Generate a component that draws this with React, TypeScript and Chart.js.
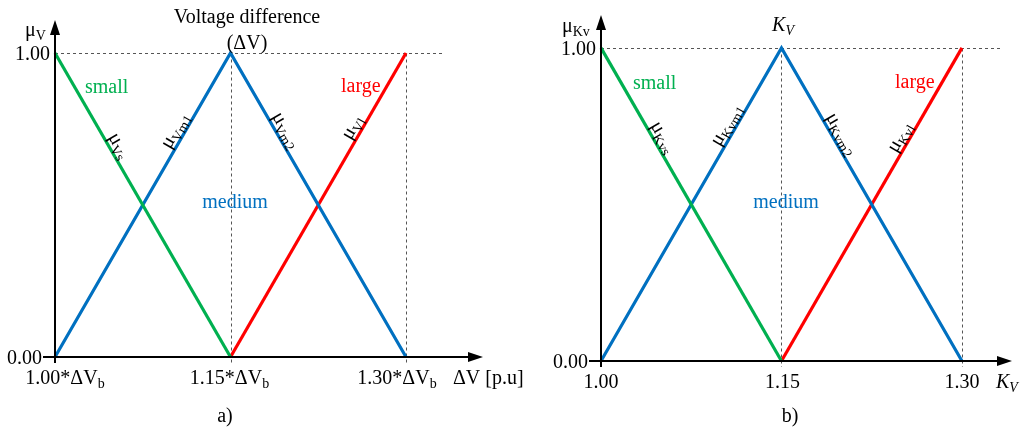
import React, { useEffect, useRef } from "react";
import { Chart, registerables } from "chart.js";

Chart.register(...registerables);

// ---------- data ----------
const xTicks = [1.0, 1.15, 1.3];
const yTicks = [0, 1];
const smallX = [1.0, 1.15];
const smallY = [1, 0];
const mediumX = [1.0, 1.15, 1.3];
const mediumY = [0, 1, 0];
const largeX = [1.15, 1.3];
const largeY = [0, 1];
const refLineEnd = 1.333;
const categoryNames = ["small", "medium", "large"];
const yTickLabels = ["0.00", "1.00"];
const leftXTickLabels = ["1.00*ΔV", "1.15*ΔV", "1.30*ΔV"];
const rightXTickLabels = ["1.00", "1.15", "1.30"];

const GREEN = "#00b050";
const BLUE = "#0070c0";
const RED = "#ff0000";
const FONT = '"Liberation Serif", "Times New Roman", serif';

type Part = { t: string; sub?: boolean; it?: boolean };

function setFont(ctx: CanvasRenderingContext2D, size: number, it?: boolean) {
  ctx.font = `${it ? "italic " : ""}${size}px ${FONT}`;
}
function pSize(p: Part, size: number) {
  return p.sub ? Math.round(size * 0.7) : size;
}
function richWidth(ctx: CanvasRenderingContext2D, parts: Part[], size: number) {
  let w = 0;
  for (const p of parts) {
    setFont(ctx, pSize(p, size), p.it);
    w += ctx.measureText(p.t).width;
  }
  return w;
}
function drawRich(
  ctx: CanvasRenderingContext2D,
  parts: Part[],
  x: number,
  y: number,
  size: number,
  align: "left" | "center" | "right",
  color: string
) {
  const w = richWidth(ctx, parts, size);
  let cx = align === "left" ? x : align === "center" ? x - w / 2 : x - w;
  ctx.fillStyle = color;
  ctx.textAlign = "left";
  ctx.textBaseline = "alphabetic";
  for (const p of parts) {
    setFont(ctx, pSize(p, size), p.it);
    ctx.fillText(p.t, cx, p.sub ? y + size * 0.22 : y);
    cx += ctx.measureText(p.t).width;
  }
}

type Panel = {
  pad: { left: number; right: number; top: number; bottom: number };
  xMax: number;
  yMax: number;
  xTick: (i: number) => Part[];
  xTickDx: number[];
  yLabel: Part[];
  yLabelX: number;
  yLabelY: number;
  titles: { parts: Part[]; x: number; y: number }[];
  catPos: { x: number; y: number; align: "left" | "center" }[];
  segLabels: Part[][];
  segT: number[];
  xTitle: Part[];
  xTitleX: number;
  letter: string;
  letterX: number;
};

const panels: Panel[] = [
  {
    pad: { left: 55, right: 540, top: 20, bottom: 73 },
    xMax: 1.3658,
    yMax: 1.1086,
    xTick: (i) => [{ t: leftXTickLabels[i] }, { t: "b", sub: true }],
    xTickDx: [10, -1, -9],
    yLabel: [{ t: "μ" }, { t: "V", sub: true }],
    yLabelX: 25,
    yLabelY: 36,
    titles: [
      { parts: [{ t: "Voltage difference" }], x: 247, y: 23 },
      { parts: [{ t: "(ΔV)" }], x: 247, y: 49 },
    ],
    catPos: [
      { x: 85, y: 93, align: "left" },
      { x: 235, y: 208, align: "center" },
      { x: 341, y: 92, align: "left" },
    ],
    segLabels: [
      [{ t: "μ" }, { t: "Vs", sub: true }],
      [{ t: "μ" }, { t: "Vm1", sub: true }],
      [{ t: "μ" }, { t: "Vm2", sub: true }],
      [{ t: "μ" }, { t: "Vl", sub: true }],
    ],
    segT: [0.32, 0.73, 0.27, 0.74],
    xTitle: [{ t: "ΔV [p.u]" }],
    xTitleX: 453,
    letter: "a)",
    letterX: 225,
  },
  {
    pad: { left: 601, right: 11, top: 15, bottom: 69 },
    xMax: 1.3416,
    yMax: 1.105,
    xTick: (i) => [{ t: rightXTickLabels[i] }],
    xTickDx: [0, 1, 0],
    yLabel: [{ t: "μ" }, { t: "Kv", sub: true }],
    yLabelX: 562,
    yLabelY: 32,
    titles: [{ parts: [{ t: "K", it: true }, { t: "V", it: true, sub: true }], x: 783, y: 31 }],
    catPos: [
      { x: 633, y: 89, align: "left" },
      { x: 786, y: 208, align: "center" },
      { x: 895, y: 88, align: "left" },
    ],
    segLabels: [
      [{ t: "μ" }, { t: "Kvs", sub: true }],
      [{ t: "μ" }, { t: "Kvm1", sub: true }],
      [{ t: "μ" }, { t: "Kvm2", sub: true }],
      [{ t: "μ" }, { t: "Kvl", sub: true }],
    ],
    segT: [0.3, 0.74, 0.29, 0.7],
    xTitle: [{ t: "K", it: true }, { t: "V", it: true, sub: true }],
    xTitleX: 996,
    letter: "b)",
    letterX: 790,
  },
];

function decor(p: Panel) {
  return {
    id: "decor",
    beforeDatasetsDraw(chart: any) {
      const ctx: CanvasRenderingContext2D = chart.ctx;
      const xs = chart.scales.x;
      const ys = chart.scales.y;
      const y1 = Math.round(ys.getPixelForValue(yTicks[1])) + 0.5;
      const y0 = ys.getPixelForValue(yTicks[0]);
      ctx.save();
      ctx.strokeStyle = "#555";
      ctx.lineWidth = 1;
      ctx.setLineDash([3, 3]);
      ctx.beginPath();
      ctx.moveTo(xs.getPixelForValue(xTicks[0]), y1);
      ctx.lineTo(xs.getPixelForValue(refLineEnd), y1);
      for (const v of xTicks.slice(1)) {
        const x = Math.round(xs.getPixelForValue(v)) + 0.5;
        ctx.moveTo(x, y1);
        ctx.lineTo(x, y0 + 6);
      }
      ctx.stroke();
      ctx.restore();
    },
    afterDatasetsDraw(chart: any) {
      const ctx: CanvasRenderingContext2D = chart.ctx;
      const xs = chart.scales.x;
      const ys = chart.scales.y;
      const area = chart.chartArea;
      const ax = xs.getPixelForValue(xTicks[0]);
      const y0 = ys.getPixelForValue(yTicks[0]);
      const y1 = ys.getPixelForValue(yTicks[1]);
      ctx.save();
      ctx.strokeStyle = "#000";
      ctx.fillStyle = "#000";
      ctx.lineWidth = 2;
      // y axis
      ctx.beginPath();
      ctx.moveTo(ax, y0 + 6);
      ctx.lineTo(ax, area.top + 12);
      ctx.stroke();
      ctx.beginPath();
      ctx.moveTo(ax, area.top);
      ctx.lineTo(ax - 5, area.top + 15);
      ctx.lineTo(ax + 5, area.top + 15);
      ctx.closePath();
      ctx.fill();
      // x axis
      ctx.beginPath();
      ctx.moveTo(ax - 12, y0);
      ctx.lineTo(area.right - 10, y0);
      ctx.stroke();
      ctx.beginPath();
      ctx.moveTo(area.right, y0);
      ctx.lineTo(area.right - 15, y0 - 5);
      ctx.lineTo(area.right - 15, y0 + 5);
      ctx.closePath();
      ctx.fill();

      // y tick labels
      drawRich(ctx, [{ t: yTickLabels[0] }], ax - 13, y0 + 7, 20, "right", "#000");
      drawRich(ctx, [{ t: yTickLabels[1] }], ax - 5, y1 + 7, 20, "right", "#000");
      // x tick labels
      xTicks.forEach((v, i) => {
        drawRich(ctx, p.xTick(i), xs.getPixelForValue(v) + p.xTickDx[i], y0 + 27, 20, "center", "#000");
      });
      // axis titles
      drawRich(ctx, p.yLabel, p.yLabelX, p.yLabelY, 20, "left", "#000");
      drawRich(ctx, p.xTitle, p.xTitleX, y0 + 27, 20, "left", "#000");
      for (const t of p.titles) drawRich(ctx, t.parts, t.x, t.y, 20, "center", "#000");
      drawRich(ctx, [{ t: p.letter }], p.letterX, 422, 20, "center", "#000");

      // category names
      const cols = [GREEN, BLUE, RED];
      categoryNames.forEach((n, i) => {
        const c = p.catPos[i];
        drawRich(ctx, [{ t: n }], c.x, c.y, 20, c.align, cols[i]);
      });

      // rotated membership labels along segments
      const segs = [
        [smallX[0], smallY[0], smallX[1], smallY[1]],
        [mediumX[0], mediumY[0], mediumX[1], mediumY[1]],
        [mediumX[1], mediumY[1], mediumX[2], mediumY[2]],
        [largeX[0], largeY[0], largeX[1], largeY[1]],
      ];
      segs.forEach((s, i) => {
        const px0 = xs.getPixelForValue(s[0]);
        const py0 = ys.getPixelForValue(s[1]);
        const px1 = xs.getPixelForValue(s[2]);
        const py1 = ys.getPixelForValue(s[3]);
        const a = Math.atan2(py1 - py0, px1 - px0);
        const t = p.segT[i];
        const off = 8;
        const cx = px0 + t * (px1 - px0) + off * Math.sin(a);
        const cy = py0 + t * (py1 - py0) - off * Math.cos(a);
        ctx.save();
        ctx.translate(cx, cy);
        ctx.rotate(a);
        drawRich(ctx, p.segLabels[i], 0, 4, 20, "center", "#000");
        ctx.restore();
      });
      ctx.restore();
    },
  };
}

function toPts(xs: number[], ys: number[]) {
  return xs.map((x, i) => ({ x, y: ys[i] }));
}

function PanelChart({ p }: { p: Panel }) {
  const ref = useRef<HTMLCanvasElement>(null);
  useEffect(() => {
    if (!ref.current) return;
    const ds = (data: any, color: string) => ({
      data,
      showLine: true,
      borderColor: color,
      backgroundColor: color,
      borderWidth: 3.2,
      pointRadius: 0,
      fill: false,
      tension: 0,
      clip: false as any,
    });
    const chart = new Chart(ref.current, {
      type: "scatter",
      data: {
        datasets: [
          ds(toPts(smallX, smallY), GREEN),
          ds(toPts(mediumX, mediumY), BLUE),
          ds(toPts(largeX, largeY), RED),
        ],
      },
      options: {
        responsive: false,
        animation: false,
        layout: { padding: p.pad },
        scales: {
          x: { type: "linear", min: xTicks[0], max: p.xMax, display: false },
          y: { type: "linear", min: yTicks[0], max: p.yMax, display: false },
        },
        plugins: { legend: { display: false }, tooltip: { enabled: false } },
      },
      plugins: [decor(p) as any],
    });
    return () => chart.destroy();
  }, [p]);
  return (
    <canvas
      ref={ref}
      width={1023}
      height={430}
      style={{ position: "absolute", left: 0, top: 0, width: 1023, height: 430 }}
    />
  );
}

export default function App() {
  return (
    <div style={{ position: "fixed", left: 0, top: 0, width: 1023, height: 430, background: "#fff" }}>
      {panels.map((p, i) => (
        <PanelChart key={i} p={p} />
      ))}
    </div>
  );
}
